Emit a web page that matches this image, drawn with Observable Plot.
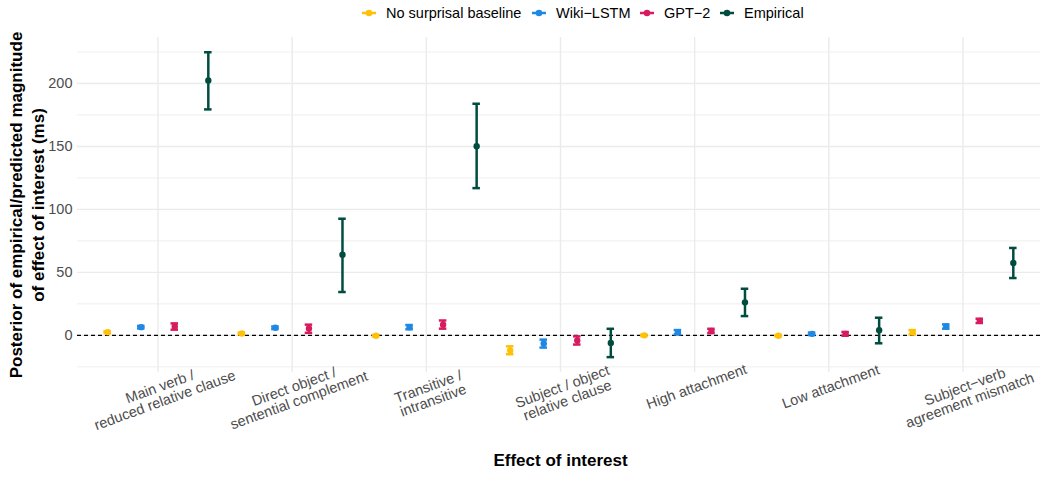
<!DOCTYPE html>
<html><head><meta charset="utf-8">
<script src="https://cdn.jsdelivr.net/npm/d3@7"></script>
<script src="https://cdn.jsdelivr.net/npm/@observablehq/plot@0.6"></script>
<style>
body{margin:0;background:#fff;font-family:"Liberation Sans",Arial,sans-serif;}
#legend{position:relative;height:28px;width:1040px;}
.item{position:absolute;top:0;height:26px;display:flex;align-items:center;font-size:14.5px;color:#000;white-space:nowrap;}
.item svg{display:block;}
#chart svg{display:block;}
</style></head><body>
<div id="legend"></div>
<div id="chart"></div>
<script>
const categories = [
  "Main verb /\nreduced relative clause",
  "Direct object /\nsentential complement",
  "Transitive /\nintransitive",
  "Subject / object\nrelative clause",
  "High attachment",
  "Low attachment",
  "Subject−verb\nagreement mismatch"
];
const models = ["No surprisal baseline", "Wiki−LSTM", "GPT−2", "Empirical"];
const colors = ["#FFC107", "#1E88E5", "#D81B60", "#004D40"];

const baselineEst = [2.5, 1.5, -0.3, -12, 0, -0.3, 2.5];
const baselineLo  = [1.8, 0.8, -0.9, -15, -0.6, -0.9, 0.8];
const baselineHi  = [3.2, 2.2, 0.3, -8.7, 0.6, 0.3, 4.2];

const lstmEst = [6.5, 6, 6.5, -6.5, 2.5, 1.2, 7];
const lstmLo  = [5.5, 5, 4.8, -9.7, 0.8, 0.2, 5.3];
const lstmHi  = [7.5, 7, 8.2, -3.4, 4.2, 2.2, 8.7];

const gpt2Est = [7, 5.5, 8.5, -4, 3.5, 1.2, 11.5];
const gpt2Lo  = [4.5, 2, 5.3, -7.3, 1.8, -0.3, 9.8];
const gpt2Hi  = [9.5, 8.5, 11.8, -0.8, 5.2, 2.7, 13.2];

const empiricalEst = [202.4, 64, 150.2, -6, 26.2, 4, 57.4];
const empiricalLo  = [179.4, 34.4, 116.9, -17.3, 15.3, -6.3, 45.5];
const empiricalHi  = [224.8, 92.6, 183.9, 5.2, 37, 14, 69.4];

const majorTicks = [0, 50, 100, 150, 200];
const minorTicks = [-25, 25, 75, 125, 175, 225];

const series = [
  [baselineEst, baselineLo, baselineHi],
  [lstmEst, lstmLo, lstmHi],
  [gpt2Est, gpt2Lo, gpt2Hi],
  [empiricalEst, empiricalLo, empiricalHi]
];
const rows = [];
series.forEach(([est, lo, hi], j) => {
  categories.forEach((c, i) => {
    rows.push({cat: i, model: models[j], x: i + (j - 1.5) * 0.25, est: est[i], lo: lo[i], hi: hi[i]});
  });
});

// legend
const legendPos = [360, 530, 638, 718];
const legend = document.getElementById("legend");
models.forEach((m, j) => {
  const it = document.createElement("div");
  it.className = "item";
  it.style.left = legendPos[j] + "px";
  it.innerHTML = `<svg width="26" height="14"><line x1="2" x2="16" y1="7" y2="7" stroke="${colors[j]}" stroke-width="2.5"/><circle cx="9" cy="7" r="3.3" fill="${colors[j]}"/></svg><span>${m}</span>`;
  legend.appendChild(it);
});

const cap = 0.028;
const chart = Plot.plot({
  width: 1040,
  height: 450,
  marginTop: 9,
  marginBottom: 106,
  marginLeft: 77,
  marginRight: 0,
  style: {fontFamily: "'Liberation Sans', Arial, sans-serif", fontSize: "14.5px", background: "#fff", overflow: "visible"},
  x: {domain: [-0.6, 6.6], range: [77, 1043], label: null},
  y: {domain: [-29.5, 236.5], label: null},
  color: {domain: models, range: colors},
  marks: [
    Plot.ruleY(minorTicks, {stroke: "#ebebeb", strokeWidth: 0.8}),
    Plot.ruleY(majorTicks, {stroke: "#ebebeb", strokeWidth: 1.4}),
    Plot.ruleX(d3.range(categories.length), {stroke: "#ebebeb", strokeWidth: 1.4}),
    Plot.ruleY([0], {stroke: "#000", strokeDasharray: "4,3", strokeWidth: 1.1}),
    Plot.axisY(majorTicks, {tickSize: 0, tickPadding: 5, fill: "#4d4d4d", fontSize: 14.5, label: null}),
    Plot.axisX(d3.range(categories.length), {
      tickSize: 0, tickPadding: 9, tickRotate: -20, textAnchor: "middle", lineAnchor: "top",
      tickFormat: i => categories[i], fill: "#4d4d4d", fontSize: 14.5, label: null
    }),
    Plot.ruleX(rows, {x: "x", y1: "lo", y2: "hi", stroke: "model", strokeWidth: 2.5}),
    Plot.ruleY(rows, {y: "lo", x1: d => d.x - cap, x2: d => d.x + cap, stroke: "model", strokeWidth: 2.5}),
    Plot.ruleY(rows, {y: "hi", x1: d => d.x - cap, x2: d => d.x + cap, stroke: "model", strokeWidth: 2.5}),
    Plot.dot(rows, {x: "x", y: "est", fill: "model", r: 3.2}),
    Plot.text(["Posterior of empirical/predicted magnitude"], {text: d => d, frameAnchor: "left", textAnchor: "middle", dx: -60.5, rotate: -90, fontWeight: "bold", fontSize: 17, fill: "#000"}),
    Plot.text(["of effect of interest (ms)"], {text: d => d, frameAnchor: "left", textAnchor: "middle", dx: -38.5, rotate: -90, fontWeight: "bold", fontSize: 17, fill: "#000"}),
    Plot.text(["Effect of interest"], {text: d => d, frameAnchor: "bottom", dy: 93.5, dx: 1.5, fontWeight: "bold", fontSize: 17, fill: "#000"})
  ]
});
document.getElementById("chart").appendChild(chart);
</script>
</body></html>
